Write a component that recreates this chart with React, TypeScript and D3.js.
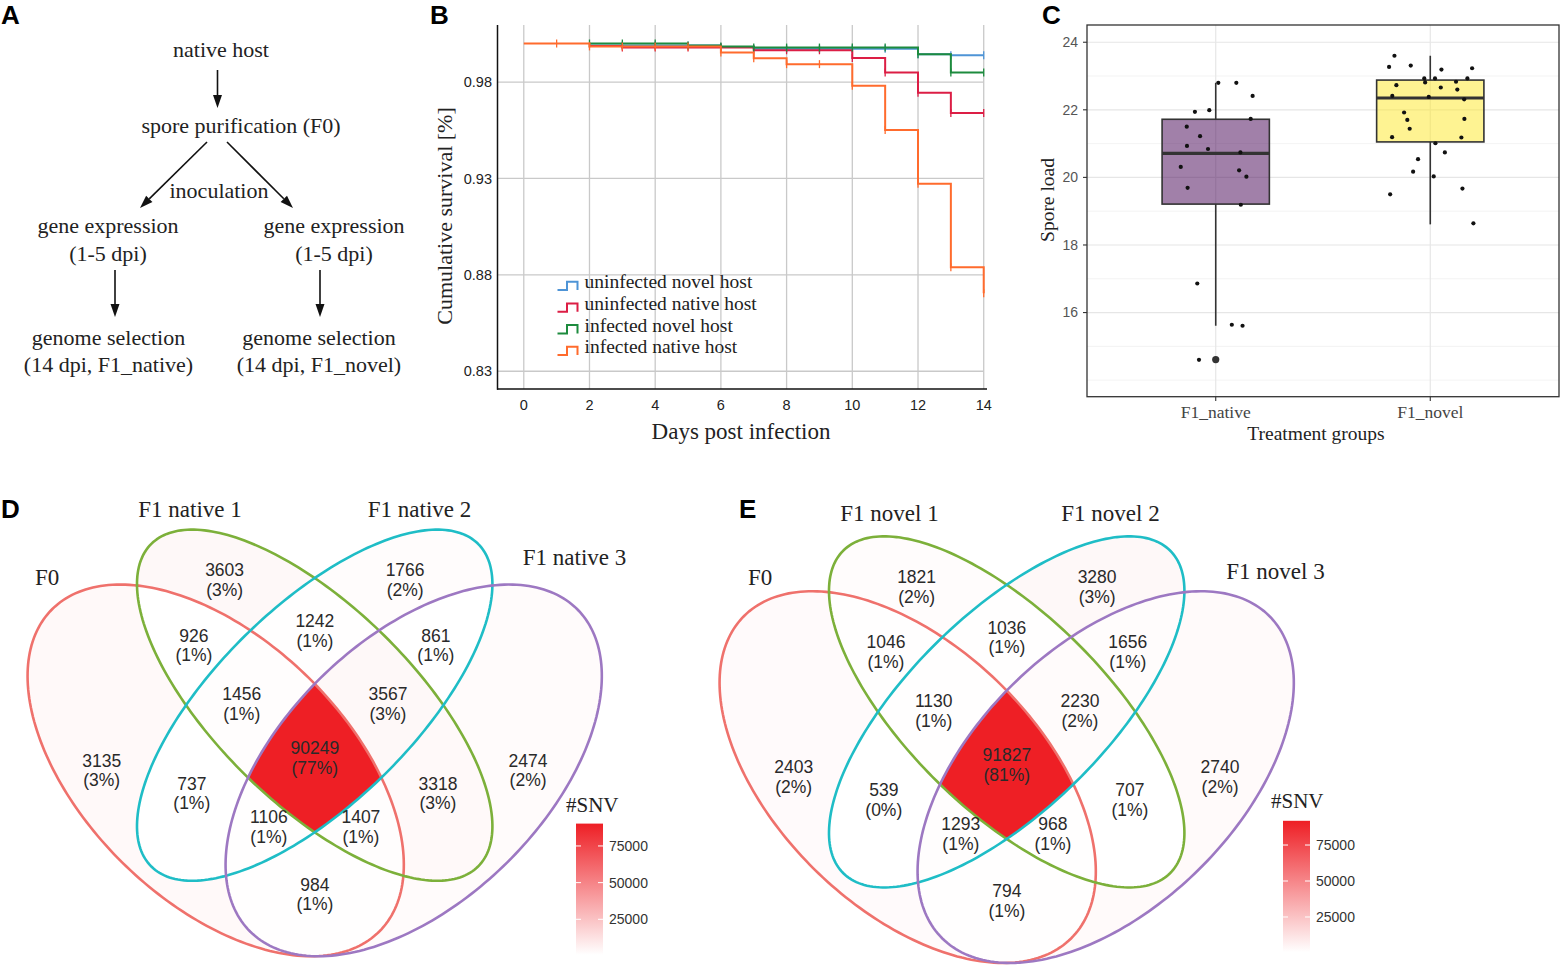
import React from 'react';
import * as d3 from 'd3';

const SERIF = '"Liberation Serif", "Times New Roman", serif';
const SANS = '"Liberation Sans", Arial, sans-serif';
const W = 1560;
const H = 965;

// ---------- panel B: survival curves ----------
const survNames = ['uninfected novel host', 'uninfected native host', 'infected novel host', 'infected native host'];
const survColors = ['#4E94D6', '#DC1E45', '#1D8B3E', '#FF6B2D'];
const uninfNovelDays = [2, 6, 7, 12, 13, 14];
const uninfNovelSurv = [0.999, 0.9982, 0.9973, 0.9944, 0.9939, 0.9939];
const uninfNativeDays = [2, 3, 7, 10, 11, 12, 13, 14];
const uninfNativeSurv = [0.9987, 0.9979, 0.9965, 0.9925, 0.9849, 0.9745, 0.9639, 0.9639];
const infNovelDays = [2, 5, 6, 7, 12, 13, 14];
const infNovelSurv = [1.0, 0.999, 0.9985, 0.9979, 0.9944, 0.985, 0.985];
const infNativeDays = [0, 2, 6, 7, 8, 10, 11, 12, 13, 14];
const infNativeSurv = [1.0, 0.9985, 0.9953, 0.9923, 0.9893, 0.9781, 0.9551, 0.9273, 0.8839, 0.8704];
const uninfNovelCensor = [3, 4, 5, 6, 7, 8, 9, 10, 11, 12, 13, 14];
const uninfNativeCensor = [3, 4, 5, 6, 7, 8, 9, 10, 11, 12, 13, 14];
const infNovelCensor = [2, 3, 4, 5, 6, 7, 8, 9, 10, 11, 12, 13, 14];
const infNativeCensor = [1, 2, 3, 4, 5, 6, 7, 8, 9, 10, 11, 12, 13, 14];
const dayTicks = [0, 2, 4, 6, 8, 10, 12, 14];
const survTicks = [0.83, 0.88, 0.93, 0.98];

// ---------- panel C: spore load ----------
const groups = ['F1_native', 'F1_novel'];
const groupFill = ['#440154', '#FDE725'];
const boxLow = [15.61, 18.61];
const boxQ1 = [19.21, 21.05];
const boxMed = [20.71, 22.35];
const boxQ3 = [21.72, 22.88];
const boxHigh = [22.8, 23.6];
const boxOutliers = [[14.61], []];
const nativeLoad = [22.8, 22.8, 22.41, 21.94, 21.99, 21.73, 21.5, 21.22, 20.93, 20.84, 20.74, 20.31, 20.21, 20.02, 19.69, 19.19, 16.86, 15.64, 15.61, 14.6];
const nativeJitter = [0.012, 0.096, 0.172, -0.097, -0.03, 0.163, -0.135, -0.073, -0.134, -0.036, 0.115, -0.163, 0.109, 0.143, -0.131, 0.117, -0.086, 0.075, 0.125, -0.078];
const novelLoad = [23.6, 23.27, 23.31, 23.19, 23.23, 22.93, 22.93, 22.93, 22.81, 22.73, 22.66, 22.83, 22.6, 22.41, 22.38, 22.31, 21.92, 21.7, 21.73, 21.44, 21.19, 21.18, 21.01, 20.74, 20.54, 20.17, 20.03, 19.5, 19.67, 18.64];
const novelJitter = [-0.167, -0.192, -0.091, 0.052, 0.195, -0.028, 0.022, 0.173, -0.024, -0.158, 0.049, 0.12, 0.126, -0.177, -0.007, 0.158, -0.122, -0.107, 0.159, -0.096, -0.178, 0.145, 0.024, 0.068, -0.057, -0.08, 0.016, -0.187, 0.15, 0.201];
const loadMajor = [16, 18, 20, 22, 24];
const loadMinor = [14, 15, 17, 19, 21, 23];

// ---------- panels D/E: venn ----------
const vennCx = [0.35, 0.5, 0.5, 0.65];
const vennCy = [0.47, 0.57, 0.57, 0.47];
const vennA = [0.35, 0.35, 0.35, 0.35];
const vennB = [0.2, 0.15, 0.15, 0.2];
const vennRot = [135, 135, 45, 45];
const vennEdge = ['#EF716C', '#7CB03A', '#1FBDC6', '#9D78C2'];
const vennRegions = ['A', 'B', 'C', 'D', 'AB', 'AC', 'AD', 'BC', 'BD', 'CD', 'ABC', 'ABD', 'ACD', 'BCD', 'ABCD'];
const nativeCounts = [3135, 3603, 1766, 2474, 926, 737, 984, 1242, 3318, 861, 1456, 1407, 1106, 3567, 90249];
const novelCounts = [2403, 1821, 3280, 2740, 1046, 539, 794, 1036, 707, 1656, 1130, 968, 1293, 2230, 91827];
const nativeSets = ['F0', 'F1 native 1', 'F1 native 2', 'F1 native 3'];
const novelSets = ['F0', 'F1 novel 1', 'F1 novel 2', 'F1 novel 3'];
const legendTicks = [25000, 50000, 75000];

function insideEllipse(i: number, x: number, y: number) {
  const r = (vennRot[i] * Math.PI) / 180;
  const dx = x - vennCx[i];
  const dy = y - vennCy[i];
  const u = dx * Math.cos(r) + dy * Math.sin(r);
  const v = -dx * Math.sin(r) + dy * Math.cos(r);
  return (u * u) / (vennA[i] * vennA[i]) + (v * v) / (vennB[i] * vennB[i]) <= 1;
}

function ellipsePoints(i: number): [number, number][] {
  const r = (vennRot[i] * Math.PI) / 180;
  return d3.range(0, 360, 1.5).map((t) => {
    const th = (t * Math.PI) / 180;
    const u = vennA[i] * Math.cos(th);
    const v = vennB[i] * Math.sin(th);
    return [vennCx[i] + u * Math.cos(r) - v * Math.sin(r), vennCy[i] + u * Math.sin(r) + v * Math.cos(r)];
  });
}

const regionMask = (key: string) => key.split('').reduce((m, c) => m | (1 << 'ABCD'.indexOf(c)), 0);
const memberOf = (x: number, y: number) => {
  let m = 0;
  for (let i = 0; i < 4; i++) if (insideEllipse(i, x, y)) m |= 1 << i;
  return m;
};

// label anchor per region: point on surface (mid scan line of the bounding box, widest run)
const labelPoints = (() => {
  const box = new Map<number, [number, number]>();
  const step = 0.002;
  for (let x = 0; x <= 1; x += step) {
    for (let y = 0; y <= 1; y += step) {
      const m = memberOf(x, y);
      if (!m) continue;
      const b = box.get(m) || [Infinity, -Infinity];
      b[0] = Math.min(b[0], y);
      b[1] = Math.max(b[1], y);
      box.set(m, b);
    }
  }
  const out = new Map<number, [number, number]>();
  box.forEach((b, m) => {
    const ym = (b[0] + b[1]) / 2;
    let best = [0, 0];
    let start = -1;
    const fs = 0.0005;
    for (let x = 0; x <= 1 + fs; x += fs) {
      const inside = x <= 1 && memberOf(x, ym) === m;
      if (inside && start < 0) start = x;
      if (!inside && start >= 0) {
        if (x - start > best[1] - best[0]) best = [start, x];
        start = -1;
      }
    }
    out.set(m, [(best[0] + best[1]) / 2, ym]);
  });
  return out;
})();

function Arrow({ x1, y1, x2, y2 }: { x1: number; y1: number; x2: number; y2: number }) {
  const len = Math.hypot(x2 - x1, y2 - y1);
  const ux = (x2 - x1) / len;
  const uy = (y2 - y1) / len;
  const hl = 13;
  const hw = 4.5;
  const bx = x2 - ux * hl;
  const by = y2 - uy * hl;
  return (
    <g>
      <line x1={x1} y1={y1} x2={bx} y2={by} stroke="#111" strokeWidth={1.6} />
      <polygon points={`${x2},${y2} ${bx - uy * hw},${by + ux * hw} ${bx + uy * hw},${by - ux * hw}`} fill="#111" />
    </g>
  );
}

function PanelA() {
  const t = { fontFamily: SERIF, fontSize: 22, fill: '#222', textAnchor: 'middle' as const };
  return (
    <g>
      <text x={1} y={24} fontFamily={SANS} fontWeight="bold" fontSize={26}>A</text>
      <text {...t} x={221} y={57}>native host</text>
      <Arrow x1={217.5} y1={70} x2={217.5} y2={108} />
      <text {...t} x={241} y={133}>spore purification (F0)</text>
      <Arrow x1={207} y1={142} x2={140} y2={208} />
      <Arrow x1={227} y1={142} x2={293} y2={208} />
      <text {...t} x={219} y={198}>inoculation</text>
      <text {...t} x={108} y={233}>gene expression</text>
      <text {...t} x={108} y={260.5}>(1-5 dpi)</text>
      <text {...t} x={334} y={233}>gene expression</text>
      <text {...t} x={334} y={260.5}>(1-5 dpi)</text>
      <Arrow x1={115} y1={270} x2={115} y2={317} />
      <Arrow x1={320} y1={270} x2={320} y2={317} />
      <text {...t} x={108.5} y={345}>genome selection</text>
      <text {...t} x={108.5} y={372}>(14 dpi, F1_native)</text>
      <text {...t} x={319} y={345}>genome selection</text>
      <text {...t} x={319} y={372}>(14 dpi, F1_novel)</text>
    </g>
  );
}

function PanelB() {
  const x = d3.scaleLinear().domain([-0.8, 14.1]).range([497.5, 987]);
  const y = d3.scaleLinear().domain([0.8208, 1.0096]).range([389, 25]);
  const line = d3
    .line<[number, number]>()
    .x((d) => x(d[0]))
    .y((d) => y(d[1]))
    .curve(d3.curveStepAfter);
  const days = [uninfNovelDays, uninfNativeDays, infNovelDays, infNativeDays];
  const surv = [uninfNovelSurv, uninfNativeSurv, infNovelSurv, infNativeSurv];
  const censor = [uninfNovelCensor, uninfNativeCensor, infNovelCensor, infNativeCensor];
  const valueAt = (s: number, day: number) => {
    let v = surv[s][0];
    days[s].forEach((d, i) => {
      if (d <= day) v = surv[s][i];
    });
    return v;
  };
  const legendBase = [288.3, 310, 331.7, 353.3];
  return (
    <g>
      <text x={430} y={24} fontFamily={SANS} fontWeight="bold" fontSize={26}>B</text>
      {survTicks.map((v) => (
        <line key={v} x1={x(-0.8)} x2={x(14)} y1={y(v)} y2={y(v)} stroke="#C9C9C9" strokeWidth={1.3} />
      ))}
      {dayTicks.map((d) => (
        <line key={d} x1={x(d)} x2={x(d)} y1={25} y2={389} stroke="#C9C9C9" strokeWidth={1.3} />
      ))}
      {survNames.map((n, s) => (
        <g key={n}>
          <path
            d={line(days[s].map((d, i) => [d, surv[s][i]] as [number, number])) || ''}
            fill="none"
            stroke={survColors[s]}
            strokeWidth={2}
          />
          {censor[s].map((d) => (
            <line key={d} x1={x(d)} x2={x(d)} y1={y(valueAt(s, d)) - 4} y2={y(valueAt(s, d)) + 4} stroke={survColors[s]} strokeWidth={1.3} />
          ))}
        </g>
      ))}
      <line x1={497.5} x2={497.5} y1={25} y2={389.7} stroke="#111" strokeWidth={1.5} />
      <line x1={497} x2={987} y1={389} y2={389} stroke="#111" strokeWidth={1.5} />
      {survTicks.map((v) => (
        <text key={v} x={492} y={y(v)} dy="0.35em" textAnchor="end" fontFamily={SANS} fontSize={14.5} fill="#222">
          {v.toFixed(2)}
        </text>
      ))}
      {dayTicks.map((d) => (
        <text key={d} x={x(d)} y={410} textAnchor="middle" fontFamily={SANS} fontSize={14.5} fill="#222">
          {d}
        </text>
      ))}
      <text x={741} y={439} textAnchor="middle" fontFamily={SERIF} fontSize={23} fill="#222">Days post infection</text>
      <text transform="translate(452,216) rotate(-90)" textAnchor="middle" fontFamily={SERIF} fontSize={22} fill="#222">
        Cumulative survival [%]
      </text>
      {survNames.map((n, s) => {
        const b = legendBase[s];
        return (
          <g key={n}>
            <path
              d={`M557.5,${b + 1.7}H567V${b - 6.6}H577.5V${b + 1.7}`}
              fill="none"
              stroke={survColors[s]}
              strokeWidth={2}
            />
            <text x={584.5} y={b} fontFamily={SERIF} fontSize={19.5} fill="#222">{n}</text>
          </g>
        );
      })}
    </g>
  );
}

function PanelC() {
  const x = d3.scalePoint<string>().domain(groups).range([1087, 1559]).padding(0.6);
  const unit = x.step();
  const y = d3.scaleLinear().domain([13.51, 24.51]).range([396.7, 25]);
  const pts = [nativeLoad, novelLoad];
  const jit = [nativeJitter, novelJitter];
  return (
    <g>
      <text x={1042} y={24} fontFamily={SANS} fontWeight="bold" fontSize={26}>C</text>
      {loadMinor.map((v) => (
        <line key={v} x1={1087} x2={1559} y1={y(v)} y2={y(v)} stroke="#F0F0F0" strokeWidth={0.8} />
      ))}
      {loadMajor.map((v) => (
        <line key={v} x1={1087} x2={1559} y1={y(v)} y2={y(v)} stroke="#E6E6E6" strokeWidth={1.2} />
      ))}
      {groups.map((g) => (
        <line key={g} x1={x(g)} x2={x(g)} y1={25} y2={396.7} stroke="#E6E6E6" strokeWidth={1.2} />
      ))}
      {groups.map((g, i) => {
        const cx = x(g)!;
        const hw = unit * 0.25;
        return (
          <g key={g}>
            <line x1={cx} x2={cx} y1={y(boxQ3[i])} y2={y(boxHigh[i])} stroke="#333" strokeWidth={1.6} />
            <line x1={cx} x2={cx} y1={y(boxQ1[i])} y2={y(boxLow[i])} stroke="#333" strokeWidth={1.6} />
            <rect
              x={cx - hw}
              y={y(boxQ3[i])}
              width={hw * 2}
              height={y(boxQ1[i]) - y(boxQ3[i])}
              fill={groupFill[i]}
              fillOpacity={0.5}
              stroke="#333"
              strokeWidth={1.6}
            />
            <line x1={cx - hw} x2={cx + hw} y1={y(boxMed[i])} y2={y(boxMed[i])} stroke="#333" strokeWidth={3.2} />
            {boxOutliers[i].map((o, k) => (
              <circle key={k} cx={cx} cy={y(o)} r={3.6} fill="#333" />
            ))}
            {pts[i].map((v, k) => (
              <circle key={k} cx={cx + jit[i][k] * unit} cy={y(v)} r={2.1} fill="#111" />
            ))}
          </g>
        );
      })}
      <rect x={1087} y={25} width={472} height={371.7} fill="none" stroke="#333" strokeWidth={1.3} />
      {loadMajor.map((v) => (
        <g key={v}>
          <line x1={1083} x2={1087} y1={y(v)} y2={y(v)} stroke="#333" strokeWidth={1.1} />
          <text x={1078} y={y(v)} dy="0.35em" textAnchor="end" fontFamily={SANS} fontSize={14} fill="#555">
            {v}
          </text>
        </g>
      ))}
      {groups.map((g) => (
        <g key={g}>
          <line x1={x(g)} x2={x(g)} y1={396.7} y2={401} stroke="#333" strokeWidth={1.1} />
          <text x={x(g)} y={418} textAnchor="middle" fontFamily={SERIF} fontSize={17.5} fill="#444">{g}</text>
        </g>
      ))}
      <text x={1316} y={440} textAnchor="middle" fontFamily={SERIF} fontSize={19.5} fill="#222">Treatment groups</text>
      <text transform="translate(1054,200) rotate(-90)" textAnchor="middle" fontFamily={SERIF} fontSize={19.5} fill="#222">
        Spore load
      </text>
    </g>
  );
}

type VennProps = {
  id: string;
  letter: string;
  letterX: number;
  counts: number[];
  sets: string[];
  x0: number;
  yMid: number;
  setLabels: { x: number; y: number; anchor: 'start' | 'middle' }[];
  legendX: number;
  legendTop: number;
  legendBottom: number;
  titleX: number;
  titleY: number;
};

function VennPanel(p: VennProps) {
  const sx = 660;
  const sy = 652;
  const xs = d3.scaleLinear().domain([0, 1]).range([p.x0 - 0.5 * sx, p.x0 + 0.5 * sx]);
  const ys = d3.scaleLinear().domain([0, 1]).range([p.yMid + 0.489 * sy, p.yMid - 0.511 * sy]);
  const path = d3
    .line<[number, number]>()
    .x((d) => xs(d[0]))
    .y((d) => ys(d[1]))
    .curve(d3.curveLinearClosed);
  const ell = [0, 1, 2, 3].map((i) => path(ellipsePoints(i)) || '');
  const lo = d3.min(p.counts)!;
  const hi = d3.max(p.counts)!;
  const total = d3.sum(p.counts);
  const color = d3.scaleLinear<string>().domain([lo, hi]).range(['#FFFFFF', '#EE1F25']);
  const ly = d3.scaleLinear().domain([lo, hi]).range([p.legendBottom, p.legendTop]);
  const lw = 27;
  return (
    <g>
      <defs>
        {ell.map((d, i) => (
          <clipPath key={i} id={`${p.id}-c${i}`}>
            <path d={d} />
          </clipPath>
        ))}
        {vennRegions.map((key, k) => (
          <mask key={key} id={`${p.id}-m${k}`} maskUnits="userSpaceOnUse" x={0} y={0} width={W} height={H}>
            <rect x={0} y={0} width={W} height={H} fill="white" />
            {ell.map((d, i) => (key.includes('ABCD'[i]) ? null : <path key={i} d={d} fill="black" />))}
          </mask>
        ))}
        <linearGradient id={`${p.id}-grad`} x1="0" y1="1" x2="0" y2="0">
          <stop offset="0" stopColor={color(lo)} />
          <stop offset="1" stopColor={color(hi)} />
        </linearGradient>
      </defs>
      <text x={p.letterX} y={518} fontFamily={SANS} fontWeight="bold" fontSize={26}>{p.letter}</text>
      {vennRegions.map((key, k) => {
        let node: React.ReactNode = <rect x={0} y={0} width={W} height={H} fill={color(p.counts[k])} />;
        [0, 1, 2, 3].forEach((i) => {
          if (key.includes('ABCD'[i])) node = <g clipPath={`url(#${p.id}-c${i})`}>{node}</g>;
        });
        return (
          <g key={key} mask={`url(#${p.id}-m${k})`}>
            {node}
          </g>
        );
      })}
      {ell.map((d, i) => (
        <path key={i} d={d} fill="none" stroke={vennEdge[i]} strokeWidth={2.6} />
      ))}
      {vennRegions.map((key, k) => {
        const c = labelPoints.get(regionMask(key))!;
        const cx = xs(c[0]);
        const cy = ys(c[1]);
        return (
          <g key={key} fontFamily={SANS} fontSize={17.5} fill="#2a2a2a" textAnchor="middle">
            <text x={cx} y={cy - 9.8} dy="0.35em">{p.counts[k]}</text>
            <text x={cx} y={cy + 9.8} dy="0.35em">({Math.round((100 * p.counts[k]) / total)}%)</text>
          </g>
        );
      })}
      {p.sets.map((s, i) => (
        <text key={s} x={p.setLabels[i].x} y={p.setLabels[i].y} textAnchor={p.setLabels[i].anchor} fontFamily={SERIF} fontSize={23} fill="#222">
          {s}
        </text>
      ))}
      <text x={p.titleX} y={p.titleY} fontFamily={SERIF} fontSize={21} fill="#222">#SNV</text>
      <rect x={p.legendX} y={p.legendTop} width={lw} height={p.legendBottom - p.legendTop} fill={`url(#${p.id}-grad)`} />
      {legendTicks.map((t) => (
        <g key={t}>
          <line x1={p.legendX} x2={p.legendX + 5} y1={ly(t)} y2={ly(t)} stroke="#fff" strokeWidth={1} />
          <line x1={p.legendX + lw - 5} x2={p.legendX + lw} y1={ly(t)} y2={ly(t)} stroke="#fff" strokeWidth={1} />
          <text x={p.legendX + lw + 6} y={ly(t)} dy="0.35em" fontFamily={SANS} fontSize={14} fill="#333">
            {t}
          </text>
        </g>
      ))}
    </g>
  );
}

export default function App() {
  return (
    <svg width={W} height={H} style={{ position: 'absolute', left: 0, top: 0, background: '#fff' }}>
      <rect width={W} height={H} fill="#fff" />
      <PanelA />
      <PanelB />
      <PanelC />
      <VennPanel
        id="dn"
        letter="D"
        letterX={1}
        counts={nativeCounts}
        sets={nativeSets}
        x0={314.7}
        yMid={758}
        setLabels={[
          { x: 35, y: 585, anchor: 'start' },
          { x: 190, y: 517, anchor: 'middle' },
          { x: 419.5, y: 517, anchor: 'middle' },
          { x: 574.5, y: 565, anchor: 'middle' },
        ]}
        legendX={576}
        legendTop={823.6}
        legendBottom={954.9}
        titleX={566}
        titleY={812}
      />
      <VennPanel
        id="en"
        letter="E"
        letterX={739}
        counts={novelCounts}
        sets={novelSets}
        x0={1006.7}
        yMid={764.7}
        setLabels={[
          { x: 748, y: 585, anchor: 'start' },
          { x: 889.5, y: 521, anchor: 'middle' },
          { x: 1110.5, y: 521, anchor: 'middle' },
          { x: 1275.5, y: 579, anchor: 'middle' },
        ]}
        legendX={1283}
        legendTop={820.8}
        legendBottom={952.2}
        titleX={1271}
        titleY={808}
      />
    </svg>
  );
}
